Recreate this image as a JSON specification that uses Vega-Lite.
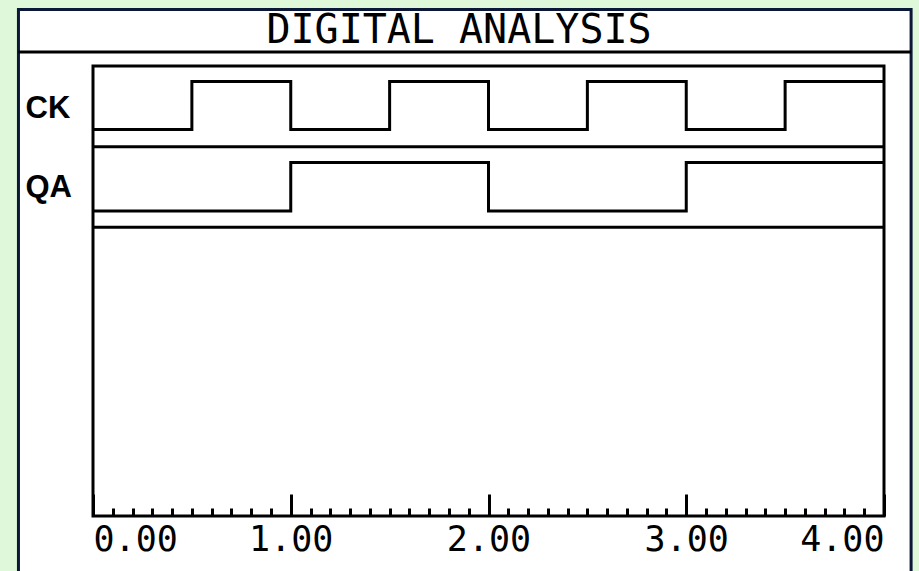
{
  "$schema": "https://vega.github.io/schema/vega-lite/v6.json",
  "autosize": {"type": "none"},
  "width": 791,
  "height": 450,
  "padding": {"left": 93, "top": 66, "right": 35, "bottom": 55},
  "background": "#e0f8da",
  "config": {"view": {"stroke": null}},
  "datasets": {
    "waves": [
      {"signal": "CK", "t": 0.0, "level": 0},
      {"signal": "CK", "t": 0.5, "level": 1},
      {"signal": "CK", "t": 1.0, "level": 0},
      {"signal": "CK", "t": 1.5, "level": 1},
      {"signal": "CK", "t": 2.0, "level": 0},
      {"signal": "CK", "t": 2.5, "level": 1},
      {"signal": "CK", "t": 3.0, "level": 0},
      {"signal": "CK", "t": 3.5, "level": 1},
      {"signal": "CK", "t": 4.0, "level": 1},
      {"signal": "QA", "t": 0.0, "level": 0},
      {"signal": "QA", "t": 1.0, "level": 1},
      {"signal": "QA", "t": 2.0, "level": 0},
      {"signal": "QA", "t": 3.0, "level": 1},
      {"signal": "QA", "t": 4.0, "level": 1}
    ]
  },
  "layer": [
    {
      "data": {"values": [{}]},
      "layer": [
        {
          "mark": {"type": "rect", "fill": "#ffffff", "stroke": "#0b1838", "strokeWidth": 3},
          "encoding": {
            "x": {"datum": -0.377, "type": "quantitative", "scale": {"domain": [0, 4], "nice": false, "zero": false}, "axis": null},
            "x2": {"datum": 4.137},
            "y": {"datum": -0.7, "type": "quantitative", "scale": {"domain": [0, 5.58], "reverse": true, "nice": false, "zero": false},
              "axis": {"orient": "left", "values": [0.53, 1.51], "labelExpr": "datum.value < 1 ? 'CK' : 'QA'", "ticks": false, "domain": false, "grid": false, "title": null, "zindex": 2,
                "labelAlign": "left", "labelPadding": 68, "labelFont": "Liberation Sans", "labelFontSize": 31, "labelFontWeight": "bold", "labelColor": "#000000", "labelBaseline": "middle", "labelOverlap": false}},
            "y2": {"datum": 7.5}
          }
        },
        {
          "mark": {"type": "rect", "fill": null, "filled": false, "stroke": "#000000", "strokeWidth": 3},
          "encoding": {
            "x": {"datum": 0, "type": "quantitative", "scale": {"domain": [0, 4], "nice": false, "zero": false}, "axis": null},
            "x2": {"datum": 4},
            "y": {"datum": 0, "type": "quantitative", "scale": {"domain": [0, 5.58], "reverse": true, "nice": false, "zero": false}},
            "y2": {"datum": 5.58}
          }
        },
        {
          "mark": {"type": "rule", "stroke": "#000000", "strokeWidth": 3},
          "encoding": {
            "x": {"datum": -0.377, "type": "quantitative", "scale": {"domain": [0, 4], "nice": false, "zero": false}, "axis": null},
            "x2": {"datum": 4.137},
            "y": {"datum": -0.173, "type": "quantitative", "scale": {"domain": [0, 5.58], "reverse": true, "nice": false, "zero": false}}
          }
        },
        {
          "mark": {"type": "text", "text": "DIGITAL ANALYSIS", "font": "DejaVu Sans Mono", "fontSize": 40, "color": "#000000", "align": "center", "baseline": "middle"},
          "encoding": {
            "x": {"datum": 1.851, "type": "quantitative", "scale": {"domain": [0, 4], "nice": false, "zero": false}, "axis": null},
            "y": {"datum": -0.43, "type": "quantitative", "scale": {"domain": [0, 5.58], "reverse": true, "nice": false, "zero": false}}
          }
        },
        {
          "mark": {"type": "rule", "stroke": "#000000", "strokeWidth": 3},
          "encoding": {
            "y": {"datum": 1.0, "type": "quantitative", "scale": {"domain": [0, 5.58], "reverse": true, "nice": false, "zero": false}}
          }
        },
        {
          "mark": {"type": "rule", "stroke": "#000000", "strokeWidth": 3},
          "encoding": {
            "y": {"datum": 2.0, "type": "quantitative", "scale": {"domain": [0, 5.58], "reverse": true, "nice": false, "zero": false}}
          }
        }
      ]
    },
    {
      "data": {"name": "waves"},
      "transform": [{"filter": "datum.signal === 'CK'"}],
      "mark": {"type": "line", "interpolate": "step-after", "stroke": "#000000", "strokeWidth": 3},
      "encoding": {
        "x": {"field": "t", "type": "quantitative", "scale": {"domain": [0, 4], "nice": false, "zero": false},
          "axis": {"orient": "bottom", "values": [0, 1, 2, 3, 4], "format": ".2f", "tickSize": -22, "tickWidth": 3, "tickColor": "#000000", "domain": false, "grid": false, "title": null, "zindex": 2,
            "labelFlush": true, "labelOverlap": false, "labelPadding": 28, "labelFont": "DejaVu Sans Mono", "labelFontSize": 35, "labelColor": "#000000"}},
        "y": {"field": "level", "type": "quantitative", "scale": {"domain": [-8.05, 1.323], "nice": false, "zero": false}, "axis": null}
      }
    },
    {
      "data": {"name": "waves"},
      "transform": [{"filter": "datum.signal === 'QA'"}],
      "mark": {"type": "line", "interpolate": "step-after", "stroke": "#000000", "strokeWidth": 3},
      "encoding": {
        "x": {"field": "t", "type": "quantitative", "scale": {"domain": [0, 4], "nice": false, "zero": false},
          "axis": {"orient": "bottom", "values": [0.1, 0.2, 0.3, 0.4, 0.5, 0.6, 0.7, 0.8, 0.9, 1.1, 1.2, 1.3, 1.4, 1.5, 1.6, 1.7, 1.8, 1.9, 2.1, 2.2, 2.3, 2.4, 2.5, 2.6, 2.7, 2.8, 2.9, 3.1, 3.2, 3.3, 3.4, 3.5, 3.6, 3.7, 3.8, 3.9],
            "labels": false, "tickSize": -8, "tickWidth": 3, "tickColor": "#000000", "domain": false, "grid": false, "title": null, "zindex": 2}},
        "y": {"field": "level", "type": "quantitative", "scale": {"domain": [-6.288, 2.99], "nice": false, "zero": false}, "axis": null}
      }
    }
  ],
  "resolve": {"scale": {"y": "independent"}, "axis": {"x": "independent", "y": "independent"}}
}
